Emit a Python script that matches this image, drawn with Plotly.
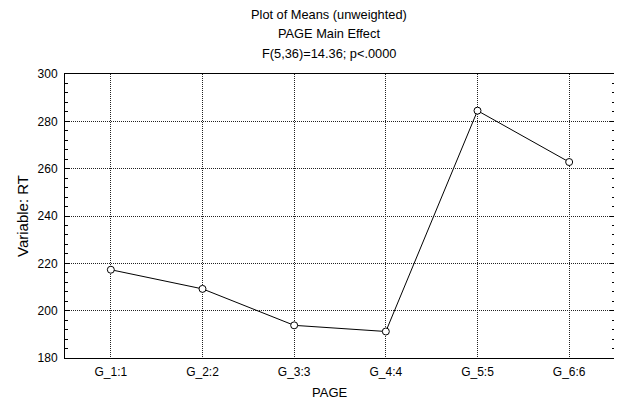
import plotly.graph_objects as go

categories = ["G_1:1", "G_2:2", "G_3:3", "G_4:4", "G_5:5", "G_6:6"]
means = [217.3, 209.2, 193.8, 191.2, 284.5, 262.8]
y_ticks = [180, 200, 220, 240, 260, 280, 300]

title_lines = ["Plot of Means (unweighted)", "PAGE Main Effect", "F(5,36)=14.36; p<.0000"]
x_title = "PAGE"
y_title = "Variable: RT"

fig = go.Figure()
fig.add_trace(go.Scatter(
    x=list(range(len(categories))), y=means, mode="lines+markers",
    line=dict(color="black", width=1),
    marker=dict(symbol="circle", size=7, color="white", line=dict(color="black", width=1)),
    showlegend=False,
))

family = "Liberation Sans, Arial, sans-serif"
tick_font = dict(family=family, size=12, color="black")
grid_dash = "1px,1px"

fig.update_layout(
    width=614, height=397,
    margin=dict(l=57, r=7, t=66, b=47),
    paper_bgcolor="white", plot_bgcolor="white",
    font=tick_font,
    xaxis=dict(
        range=[-0.5, 5.5], tickvals=list(range(len(categories))), ticktext=categories,
        tickfont=tick_font, ticklabelstandoff=3,
        showgrid=True, gridcolor="#222", griddash=grid_dash, gridwidth=1,
        showline=True, linecolor="black", linewidth=1, mirror=True,
        ticks="", zeroline=False, automargin=False,
    ),
    yaxis=dict(
        range=[180, 300], tickvals=y_ticks,
        tickfont=tick_font, ticklabelstandoff=4,
        showgrid=True, gridcolor="#222", griddash=grid_dash, gridwidth=1,
        showline=True, linecolor="black", linewidth=1, mirror="allticks",
        ticks="inside", ticklen=5, tickcolor="black",
        minor=dict(dtick=4, ticks="inside", ticklen=3, tickcolor="black", showgrid=False),
        zeroline=False, automargin=False,
    ),
)

title_shifts = [60, 40.5, 21]
for t, ys in zip(title_lines, title_shifts):
    fig.add_annotation(text=t, xref="paper", yref="paper", x=0.5, y=1,
                       xshift=-11, yshift=ys, showarrow=False,
                       font=dict(family=family, size=12.8, color="black"),
                       xanchor="center", yanchor="middle")

fig.add_annotation(text=x_title, xref="paper", yref="paper", x=0.5, y=0,
                   xshift=-11, yshift=-34, showarrow=False,
                   font=dict(family=family, size=13, color="black"),
                   xanchor="center", yanchor="middle")
fig.add_annotation(text=y_title, xref="paper", yref="paper", x=0, y=0.5,
                   xshift=-43, showarrow=False, textangle=-90,
                   font=dict(family=family, size=15, color="black"),
                   xanchor="center", yanchor="middle")

fig.write_html("out.html")
